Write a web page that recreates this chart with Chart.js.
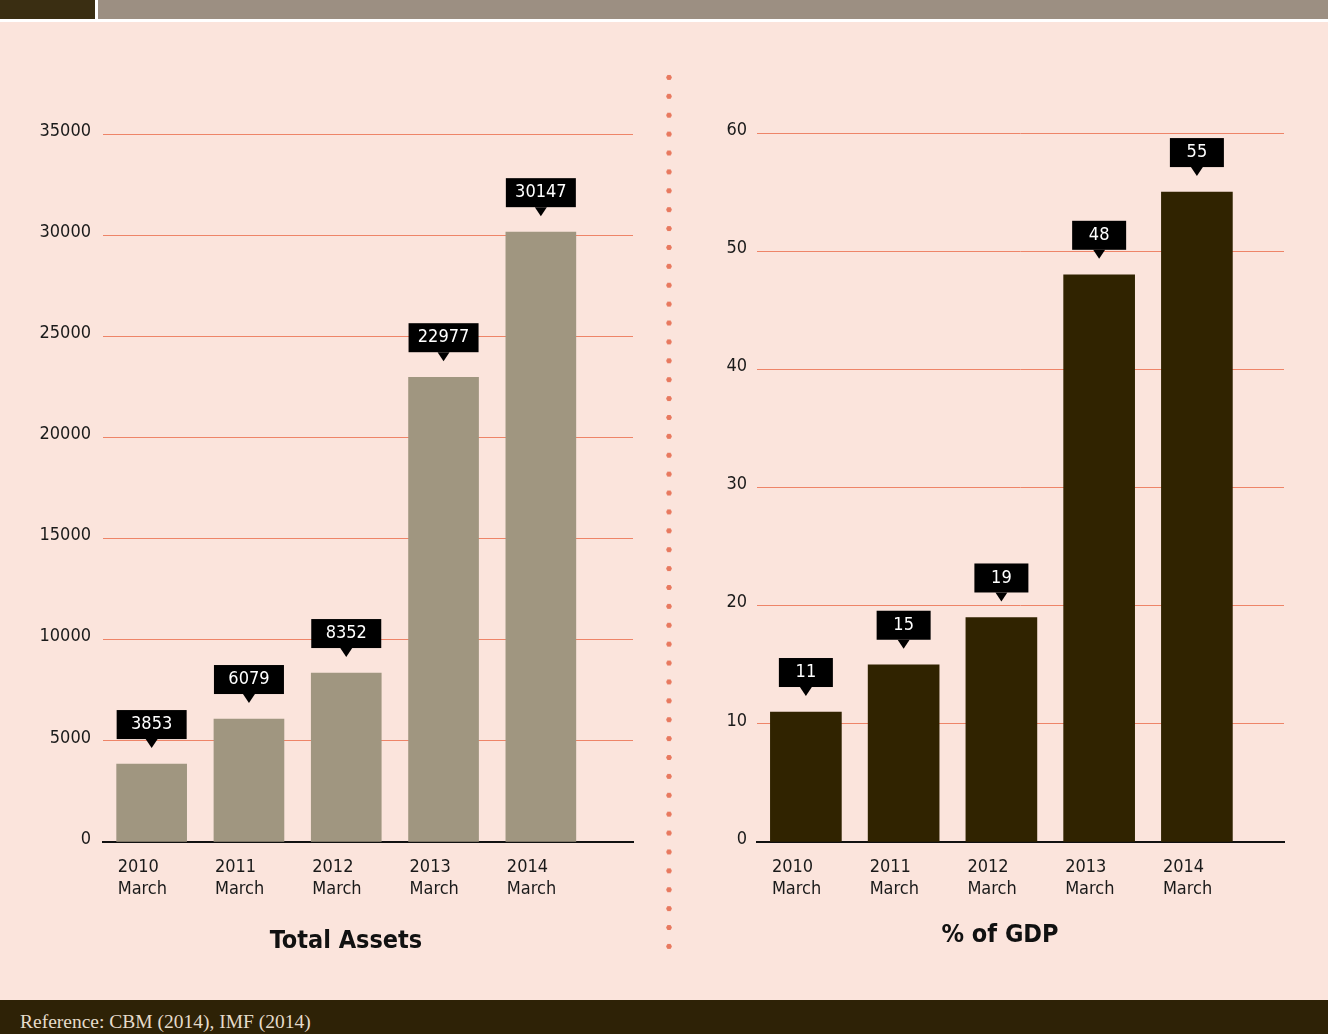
<!DOCTYPE html>
<html>
<head>
<meta charset="utf-8">
<script src="https://cdn.jsdelivr.net/npm/chart.js@4.4.1/dist/chart.umd.min.js"></script>
<style>
    body { margin: 0; width: 1328px; height: 1034px; background: #fbe4dc; position: relative; overflow: hidden; }
    .top-strip { position: absolute; left: 0; top: 0; width: 1328px; height: 22px; background: #ffffff; }
    .top-dark { position: absolute; left: 0; top: 0; width: 95px; height: 19px; background: #3a2e12; }
    .top-grey { position: absolute; left: 98px; top: 0; width: 1230px; height: 19px; background: #9c8f82; }
    .divider {
        position: absolute; left: 666px; top: 68px; width: 6px; height: 888px;
        background-image: radial-gradient(circle, #e8795f 2.4px, transparent 2.9px);
        background-size: 6px 18.9px;
    }
    canvas { position: absolute; top: 100px; }
    #assetsChart { left: 0; }
    #gdpChart { left: 664px; }
    .chart-title {
        position: absolute; transform: translateX(-50%); white-space: nowrap;
        font-family: "DejaVu Sans Condensed", "DejaVu Sans", sans-serif; font-weight: bold;
        font-size: 25px; line-height: 26px; color: #111;
    }
    .footer { position: absolute; left: 0; top: 1000px; width: 1328px; height: 34px; background: #2e2206; }
    .footer span {
        position: absolute; left: 20px; top: 12px;
        font-family: "Liberation Serif", serif; font-size: 19.5px; line-height: 20px; color: #e6dccb;
    }
</style>
</head>
<body>
<div class="top-strip"></div>
<div class="top-dark"></div>
<div class="top-grey"></div>

<canvas id="assetsChart" width="664" height="900"></canvas>
<canvas id="gdpChart" width="664" height="900"></canvas>
<div class="divider"></div>

<div class="chart-title" style="left:346px; top:927px;">Total Assets</div>
<div class="chart-title" style="left:1000px; top:921px;">% of GDP</div>

<div class="footer"><span>Reference: CBM (2014), IMF (2014)</span></div>

<script>
const categories = [['2010', 'March'], ['2011', 'March'], ['2012', 'March'], ['2013', 'March'], ['2014', 'March']];
const totalAssets = [3853, 6079, 8352, 22977, 30147];
const gdpShare = [11, 15, 19, 48, 55];
const assetsTicks = [0, 5000, 10000, 15000, 20000, 25000, 30000, 35000];
const gdpTicks = [0, 10, 20, 30, 40, 50, 60];

const FONT = '"DejaVu Sans Condensed", "DejaVu Sans", sans-serif';

// black callout boxes with a little pointer above each bar
const calloutPlugin = {
    id: 'callouts',
    afterDatasetsDraw(chart, args, opts) {
        const ctx = chart.ctx;
        const meta = chart.getDatasetMeta(0);
        const values = chart.data.datasets[0].data;
        ctx.save();
        meta.data.forEach((bar, i) => {
            const w = opts.boxWidth;
            const h = 29;
            const tip = bar.y - 16;
            const bottom = tip - 9;
            const left = bar.x - w / 2;
            ctx.fillStyle = '#000';
            ctx.fillRect(left, bottom - h, w, h);
            ctx.beginPath();
            ctx.moveTo(bar.x - 6, bottom);
            ctx.lineTo(bar.x + 6, bottom);
            ctx.lineTo(bar.x, tip);
            ctx.closePath();
            ctx.fill();
            ctx.fillStyle = '#fff';
            ctx.font = '18px ' + FONT;
            ctx.textAlign = 'center';
            ctx.textBaseline = 'middle';
            ctx.fillText(String(values[i].y), bar.x, bottom - h / 2);
        });
        ctx.restore();
    }
};

function makeChart(id, values, yTicks, opt) {
    const ctx = document.getElementById(id).getContext('2d');
    return new Chart(ctx, {
        type: 'bar',
        data: {
            datasets: [{
                data: values.map((v, i) => ({ x: i, y: v })),
                backgroundColor: opt.color,
                barThickness: opt.barWidth
            }]
        },
        plugins: [calloutPlugin],
        options: {
            responsive: false,
            animation: false,
            layout: { padding: { left: 0, right: opt.padRight, top: opt.padTop, bottom: 58 } },
            plugins: {
                legend: { display: false },
                tooltip: { enabled: false },
                callouts: { boxWidth: opt.boxWidth }
            },
            scales: {
                x: {
                    type: 'linear',
                    offset: false,
                    min: -0.5,
                    max: opt.xMax,
                    grid: { display: false },
                    border: { display: true, color: '#111', width: 2 },
                    afterBuildTicks: scale => { scale.ticks = categories.map((c, i) => ({ value: i })); },
                    afterFit: scale => { scale.height = 100; },
                    ticks: {
                        autoSkip: false,
                        maxRotation: 0,
                        align: 'start',
                        labelOffset: -34,
                        padding: 7,
                        color: '#1a1a1a',
                        font: { family: FONT, size: 18, lineHeight: 1.2 },
                        callback: value => categories[value]
                    }
                },
                y: {
                    min: 0,
                    max: yTicks[yTicks.length - 1],
                    afterBuildTicks: scale => { scale.ticks = yTicks.map(v => ({ value: v })); },
                    afterFit: scale => { scale.width = opt.axisWidth; },
                    grid: { color: '#ee8468', lineWidth: 1, drawTicks: false },
                    border: { display: false },
                    ticks: {
                        padding: opt.tickPad,
                        labelOffset: -3,
                        color: '#1a1a1a',
                        font: { family: FONT, size: 18 },
                        callback: value => String(value)
                    }
                }
            }
        }
    });
}

document.addEventListener('DOMContentLoaded', function() {
    makeChart('assetsChart', totalAssets, assetsTicks, {
        color: '#a09680', barWidth: 70, boxWidth: 70, xMax: 4.947,
        axisWidth: 103, tickPad: 12, padRight: 31, padTop: 34
    });
    makeChart('gdpChart', gdpShare, gdpTicks, {
        color: '#302300', barWidth: 71, boxWidth: 54, xMax: 4.891,
        axisWidth: 93, tickPad: 10, padRight: 44, padTop: 33
    });
});
</script>
</body>
</html>
